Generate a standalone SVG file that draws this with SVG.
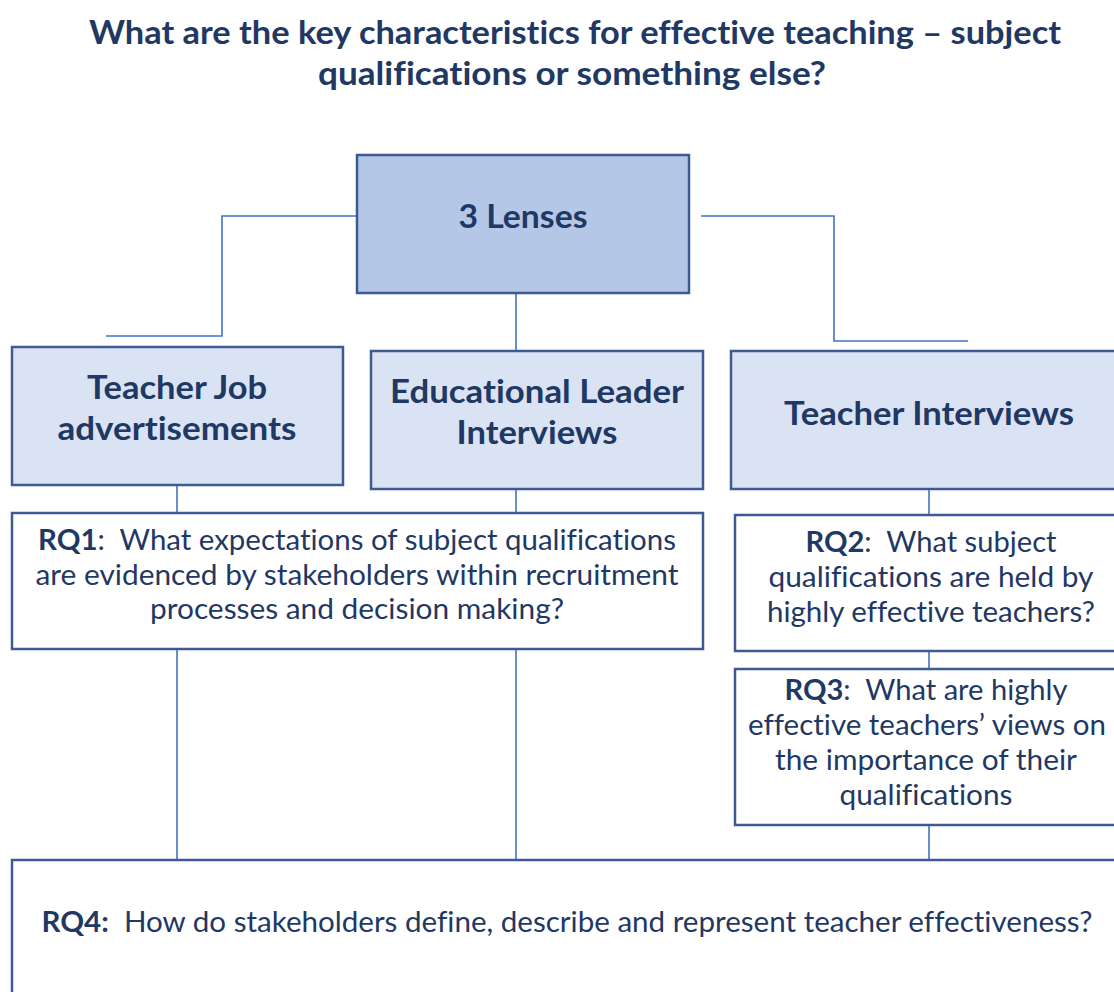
<svg xmlns="http://www.w3.org/2000/svg" width="1114" height="992" viewBox="0 0 1114 992">
<style>
.t{font-family:Lato,"Liberation Sans",sans-serif;fill:#1F3864;text-anchor:middle;font-variant-ligatures:none;white-space:pre}
.b{font-weight:bold}
.h{font-size:32px;font-weight:bold}
.q{font-size:29px}
.box{stroke:#3D5A93;stroke-width:2.5}
.lens{fill:#B4C7E7}
.src{fill:#DAE3F3}
.rq{fill:#FFFFFF}
.c{fill:none;stroke:#4472C4;stroke-width:1.6}
</style>
<rect width="1114" height="992" fill="#FFFFFF"/>
<g id="title">
<text class="t b" x="575" y="44" font-size="33" textLength="972" lengthAdjust="spacingAndGlyphs">What are the key characteristics for effective teaching – subject</text>
<text class="t b" x="572" y="85" font-size="33" textLength="508" lengthAdjust="spacingAndGlyphs">qualifications or something else?</text>
</g>
<g id="connectors">
<polyline class="c" points="357,216 222,216 222,336 106,336"/>
<polyline class="c" points="701,216 834,216 834,341 968,341"/>
<line class="c" x1="516" y1="293" x2="516" y2="351"/>
<line class="c" x1="177" y1="485" x2="177" y2="513"/>
<line class="c" x1="516" y1="489" x2="516" y2="513"/>
<line class="c" x1="929" y1="489" x2="929" y2="515"/>
<line class="c" x1="929" y1="651" x2="929" y2="669"/>
<line class="c" x1="177" y1="649" x2="177" y2="860"/>
<line class="c" x1="516" y1="649" x2="516" y2="860"/>
<line class="c" x1="929" y1="825" x2="929" y2="860"/>
</g>
<g id="lenses">
<rect class="box lens" x="357" y="155" width="332" height="138"/>
<text class="t h" x="523" y="228" textLength="129" lengthAdjust="spacingAndGlyphs">3 Lenses</text>
</g>
<g id="job-ads">
<rect class="box src" x="12" y="347" width="331" height="138"/>
<text class="t h" x="177" y="399" textLength="180" lengthAdjust="spacingAndGlyphs">Teacher Job</text>
<text class="t h" x="177" y="440" textLength="239" lengthAdjust="spacingAndGlyphs">advertisements</text>
</g>
<g id="leader-interviews">
<rect class="box src" x="371" y="351" width="332" height="138"/>
<text class="t h" x="537" y="403" textLength="294" lengthAdjust="spacingAndGlyphs">Educational Leader</text>
<text class="t h" x="537" y="444" textLength="161" lengthAdjust="spacingAndGlyphs">Interviews</text>
</g>
<g id="teacher-interviews">
<rect class="box src" x="731" y="351" width="400" height="138"/>
<text class="t h" x="929" y="425" textLength="290" lengthAdjust="spacingAndGlyphs">Teacher Interviews</text>
</g>
<g id="rq1">
<rect class="box rq" x="12" y="513" width="691" height="136"/>
<text class="t q" x="357" y="550" textLength="638" lengthAdjust="spacingAndGlyphs"><tspan class="b">RQ1</tspan>:  What expectations of subject qualifications</text>
<text class="t q" x="357" y="585" textLength="643" lengthAdjust="spacingAndGlyphs">are evidenced by stakeholders within recruitment</text>
<text class="t q" x="357" y="619" textLength="414" lengthAdjust="spacingAndGlyphs">processes and decision making?</text>
</g>
<g id="rq2">
<rect class="box rq" x="735" y="515" width="400" height="136"/>
<text class="t q" x="931" y="552" textLength="251" lengthAdjust="spacingAndGlyphs"><tspan class="b">RQ2</tspan>:  What subject</text>
<text class="t q" x="931" y="587" textLength="325" lengthAdjust="spacingAndGlyphs">qualifications are held by</text>
<text class="t q" x="931" y="622" textLength="328" lengthAdjust="spacingAndGlyphs">highly effective teachers?</text>
</g>
<g id="rq3">
<rect class="box rq" x="735" y="669" width="400" height="156"/>
<text class="t q" x="926" y="700" textLength="283" lengthAdjust="spacingAndGlyphs"><tspan class="b">RQ3</tspan>:  What are highly</text>
<text class="t q" x="927" y="735" textLength="358" lengthAdjust="spacingAndGlyphs">effective teachers’ views on</text>
<text class="t q" x="926" y="770" textLength="302" lengthAdjust="spacingAndGlyphs">the importance of their</text>
<text class="t q" x="926" y="805" textLength="173" lengthAdjust="spacingAndGlyphs">qualifications</text>
</g>
<g id="rq4">
<rect class="box rq" x="12" y="860" width="1120" height="150"/>
<text class="t q" x="567" y="932" textLength="1051" lengthAdjust="spacingAndGlyphs"><tspan class="b">RQ4:</tspan>  How do stakeholders define, describe and represent teacher effectiveness?</text>
</g>
</svg>
